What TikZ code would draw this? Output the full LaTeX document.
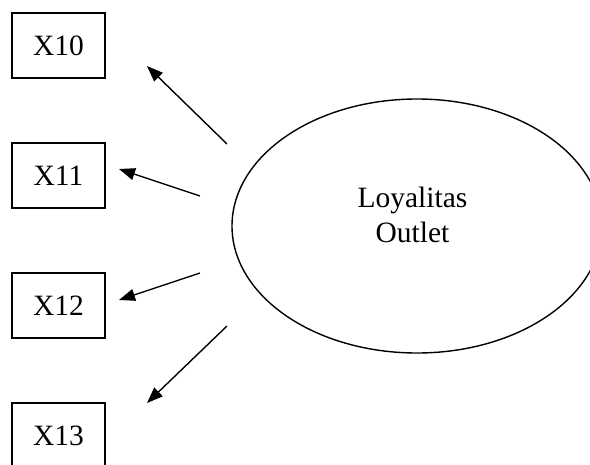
\documentclass[tikz,border=0pt]{standalone}
\usepackage{fontspec}
\setmainfont{Liberation Serif}
\usetikzlibrary{arrows.meta,shapes.geometric}
\tikzset{
  txt/.style={font=\fontsize{29.5}{35}\selectfont},
  varbox/.style={draw, txt, line width=1.4pt, minimum width=93pt, minimum height=65pt, inner sep=0pt},
  latent/.style={draw, ellipse, line width=1.4pt, minimum width=370pt, minimum height=254pt, inner sep=0pt},
  loadarrow/.style={line width=1.4pt, -{Triangle[length=16pt,width=12pt]}}
}
\begin{document}
\begin{tikzpicture}[x=1pt,y=-1pt]
\useasboundingbox (0,0) rectangle (590,464);
\clip (0,0) rectangle (590,464);
\node[varbox] (x10) at (58.5,45.5) {X10};
\node[varbox] (x11) at (58.5,175.5) {X11};
\node[varbox] (x12) at (58.5,305.5) {X12};
\node[varbox] (x13) at (58.5,435.5) {X13};
\node[latent] (lo) at (417,226) {};
\node[txt, align=center, inner sep=0pt] (lotext) at (412.5,214.5) {Loyalitas\\Outlet};
\coordinate (t1) at (227,144);
\coordinate (h1) at (147,66);
\coordinate (t2) at (200,196);
\coordinate (h2) at (119,169);
\coordinate (t3) at (200,273);
\coordinate (h3) at (119,300);
\coordinate (t4) at (227,326);
\coordinate (h4) at (147,403);
\draw[loadarrow] (t1) -- (h1);
\draw[loadarrow] (t2) -- (h2);
\draw[loadarrow] (t3) -- (h3);
\draw[loadarrow] (t4) -- (h4);
\end{tikzpicture}
\end{document}
